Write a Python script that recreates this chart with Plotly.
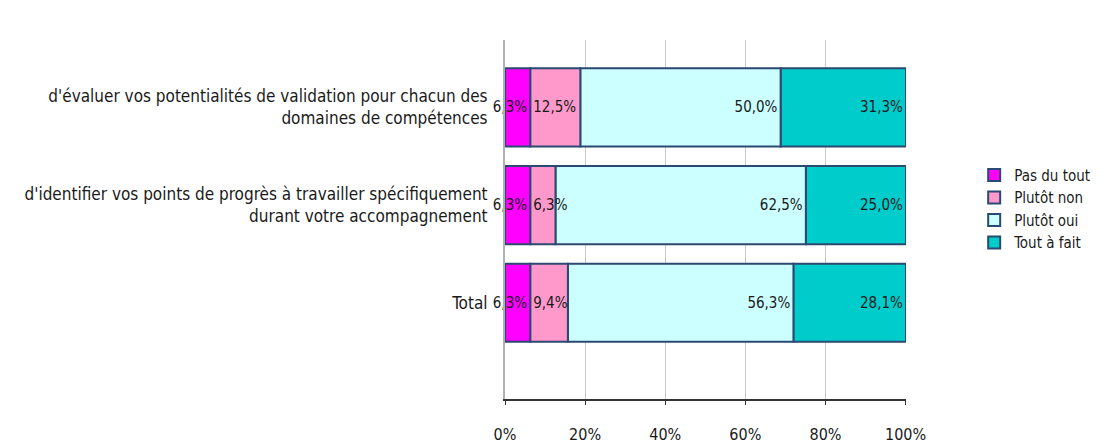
import plotly.graph_objects as go
import numpy as np

categories = [
    "Total",
    "d'identifier vos points de progrès à travailler spécifiquement<br>durant votre accompagnement",
    "d'évaluer vos potentialités de validation pour chacun des<br>domaines de compétences",
]
series_names = ["Pas du tout", "Plutôt non", "Plutôt oui", "Tout à fait"]
pas_du_tout = [6.3, 6.3, 6.3]
plutot_non = [9.4, 6.3, 12.5]
plutot_oui = [56.3, 62.5, 50.0]
tout_a_fait = [28.1, 25.0, 31.3]
values = [pas_du_tout, plutot_non, plutot_oui, tout_a_fait]
colors = ["#FF00FF", "#FF99CC", "#CCFFFF", "#00CCCC"]
anchors = ["end", "start", "end", "end"]
x_ticks = [0, 20, 40, 60, 80, 100]
x_labels = ["0%", "20%", "40%", "60%", "80%", "100%"]

FONT = "DejaVu Sans Condensed, Liberation Sans Narrow, Liberation Sans, sans-serif"
ypos = [0, 1, 2]

# stacked bases from the data (cumulative sums)
arr = np.array(values)
bases = np.vstack([np.zeros(arr.shape[1]), np.cumsum(arr, axis=0)[:-1]])

fig = go.Figure()
# draw right-most series first so overflowing labels of left series stay visible
for i in reversed(range(len(series_names))):
    vals = values[i]
    fig.add_trace(go.Bar(
        y=ypos, x=vals, base=list(bases[i]), name=series_names[i], orientation="h",
        marker=dict(color=colors[i], line=dict(color="#2B4A72", width=2)),
        width=0.8,
        text=[("%.1f%%" % v).replace(".", ",") for v in vals],
        textposition="inside", insidetextanchor=anchors[i], constraintext="none",
        textangle=0,
        textfont=dict(family=FONT, size=15, color="#1a1a1a"),
        cliponaxis=False,
    ))

fig.update_layout(
    barmode="overlay",
    width=1104, height=437,
    margin=dict(l=497, r=206, t=32, b=46, autoexpand=False),
    paper_bgcolor="white", plot_bgcolor="white",
    font=dict(family=FONT, size=15, color="#1a1a1a"),
    showlegend=True,
    legend=dict(x=1.17, y=0.53, xanchor="left", yanchor="middle",
                traceorder="reversed",
                font=dict(family=FONT, size=15, color="#1a1a1a"),
                itemwidth=30, tracegroupgap=2),
)
fig.update_xaxes(
    range=[0, 100.1], tickvals=x_ticks, ticktext=x_labels,
    showgrid=True, gridcolor="#C8C8C8", gridwidth=1,
    showline=True, linecolor="#333333", linewidth=2,
    ticks="outside", ticklen=4, tickcolor="#333333",
    ticklabelstandoff=16, zeroline=False, automargin=False,
    tickfont=dict(family=FONT, size=16, color="#1a1a1a"),
)
fig.update_yaxes(
    range=[-0.985, 2.69], tickvals=ypos, ticktext=categories,
    showline=True, linecolor="#B0B0B0", linewidth=2,
    ticks="", showgrid=False, zeroline=False, automargin=False,
    tickfont=dict(family=FONT, size=17, color="#1a1a1a"),
    ticklabelstandoff=12,
)
fig.write_html("out.html")
